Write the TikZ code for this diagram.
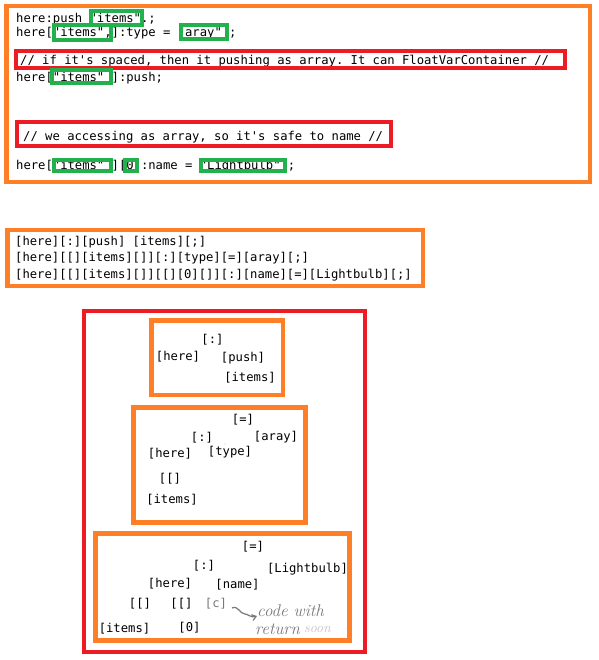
\documentclass[tikz,border=0pt]{standalone}
\usepackage{fontspec}
\setmonofont{DejaVu Sans Mono}
\usetikzlibrary{arrows.meta}
\definecolor{paintorange}{RGB}{255,127,39}
\definecolor{paintred}{RGB}{237,28,36}
\definecolor{paintgreen}{RGB}{34,177,76}
\definecolor{pencil}{RGB}{120,120,120}
\definecolor{pencillight}{RGB}{195,195,195}
\begin{document}
\begin{tikzpicture}[x=1pt,y=-1pt,
  code/.style={inner sep=0pt, font=\fontsize{12.2}{14}\selectfont\ttfamily, anchor=base west},
  tok/.style={inner sep=0pt, font=\fontsize{12.2}{14}\selectfont\ttfamily, anchor=base},
  orangebox/.style={draw=paintorange, line width=4.5pt, line join=miter},
  redbox/.style={draw=paintred, line width=4pt, line join=miter},
  hilite/.style={draw=paintgreen, line width=4pt, line join=miter},
  handnote/.style={inner sep=0pt, anchor=base west, text=pencil, font=\fontsize{17}{18}\selectfont\itshape},
]
\useasboundingbox (0,0) rectangle (598,660);
\fill[white] (0,0) rectangle (598,660);

% ---- source lines ----
\node[code] (src1) at (16,22.5) {here:push "items".;};
\node[code] (src2) at (16,36.7) {here["items",]:type = "aray" ;};
\node[code] (cmt1) at (20,65)   {// if it's spaced, then it pushing as array. It can FloatVarContainer //};
\node[code] (src3) at (16,81.7) {here["items" ]:push;};
\node[code] (cmt2) at (23,141)  {// we accessing as array, so it's safe to name //};
\node[code] (src4) at (16,170)  {here["items" ][0]:name = "Lightbulb" ;};

\draw[redbox] (16,51) rectangle (565,68);
\draw[redbox] (17,122) rectangle (391,146);

\draw[hilite] (91,11) rectangle (142,25);
\draw[hilite] (54,25) rectangle (111,40);
\draw[hilite] (181,25) rectangle (227,39);
\draw[hilite] (52,70) rectangle (111,83);
\draw[hilite] (54,160) rectangle (111,171);
\draw[hilite] (125,160) rectangle (137,171);
\draw[hilite] (201,160) rectangle (285,171);

\draw[orangebox] (6.5,6) rectangle (590,182);

% ---- token lists ----
\node[code] (lex1) at (15,245.7) {[here][:][push] [items][;]};
\node[code] (lex2) at (15,261)   {[here][[][items][]][:][type][=][aray][;]};
\node[code] (lex3) at (15,278.3) {[here][[][items][]][[][0][]][:][name][=][Lightbulb][;]};
\draw[orangebox] (7.5,230) rectangle (423,286);

% ---- trees ----
\draw[redbox] (84,311) rectangle (365,652);

% push
\draw[orangebox] (151.5,320.5) rectangle (283,395);
\node[tok] (pColon) at (212.5,343) {[:]};
\node[tok] (pHere)  at (178,360.5) {[here]};
\node[tok] (pPush)  at (243,361.5) {[push]};
\node[tok] (pItems) at (250,381.5) {[items]};

% type
\draw[orangebox] (133.5,407.5) rectangle (305.5,522.5);
\node[tok] (tAssign) at (243,423) {[=]};
\node[tok] (tColon)  at (202,441) {[:]};
\node[tok] (tAray)   at (276,440) {[aray]};
\node[tok] (tHere)   at (170,457) {[here]};
\node[tok] (tType)   at (230,455) {[type]};
\node[tok] (tIndex)  at (170,482) {[[]};
\node[tok] (tItems)  at (172,503) {[items]};
\fill[pencillight] (225,444) circle (0.6);

% name
\draw[orangebox] (95.5,533.5) rectangle (349.5,640.5);
\node[tok] (nAssign) at (253,550) {[=]};
\node[tok] (nColon)  at (204,569) {[:]};
\node[tok] (nLight)  at (307.5,572) {[Lightbulb]};
\node[tok] (nHere)   at (170,587) {[here]};
\node[tok] (nName)   at (237.5,588) {[name]};
\node[tok] (nIdxA)   at (140,607) {[[]};
\node[tok] (nIdxB)   at (181.5,607) {[[]};
\node[tok, text=pencil] (nCall) at (216,607) {[c]};
\node[tok] (nItems)  at (124.5,632) {[items]};
\node[tok] (nZero)   at (189.5,631) {[0]};

% pencil note
\node[handnote] (note1) at (257,616) {code with};
\node[handnote] (note2) at (255,634) {return};
\node[handnote, text=pencillight, font=\fontsize{14}{16}\selectfont\itshape] (note3) at (304,632) {soon};
\coordinate (tail) at (232,608);
\draw[pencil, line width=1.2pt, -{Straight Barb[length=4pt,width=6pt]}]
  (tail) .. controls (238,605) and (240,614) .. (245,614)
  .. controls (248,614) and (251,618) .. (note1.base west);
\end{tikzpicture}
\end{document}
